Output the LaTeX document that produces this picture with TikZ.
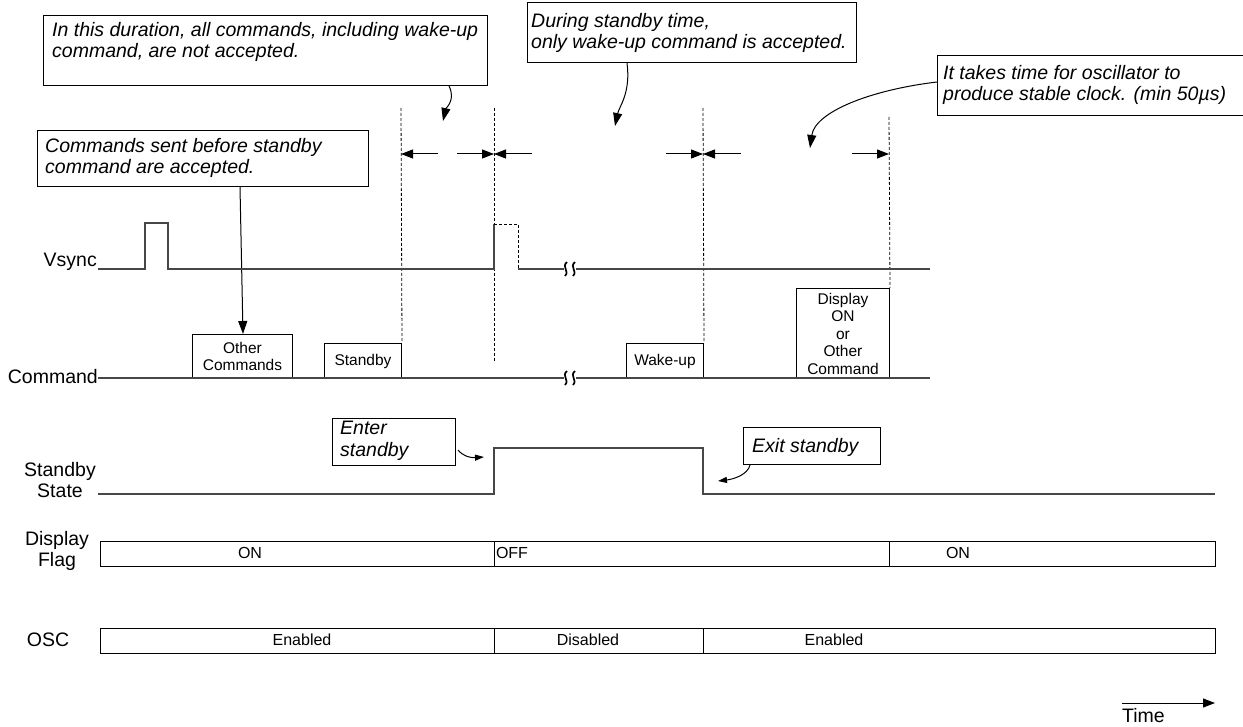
\documentclass[tikz,border=0pt]{standalone}
\usepackage{fontspec}
\setmainfont{Liberation Sans}
\usetikzlibrary{arrows.meta,calc}
\begin{document}
\begin{tikzpicture}[x=1pt,y=-1pt,
  sig/.style={line width=1.3pt, draw=black!72},
  cbox/.style={draw, line width=1pt, inner sep=0pt, anchor=north west},
  ctext/.style={font=\fontsize{19.5}{21.5}\selectfont\itshape, align=left, inner sep=0pt, anchor=north west},
  lbl/.style={font=\fontsize{19.5}{21}\selectfont, align=center, inner sep=0pt},
  cmdbox/.style={draw, line width=1pt, inner sep=0pt, anchor=north west, align=center, font=\fontsize{15.5}{17.5}\selectfont},
  seg/.style={draw, line width=1pt, inner sep=0pt, anchor=north west},
  segtxt/.style={font=\fontsize{16}{18}\selectfont, inner sep=0pt},
  vdash/.style={line width=0.8pt, dash pattern=on 3pt off 2pt},
  carrow/.style={line width=1pt, -{Triangle[length=13pt,width=9pt]}},
  dimarrow/.style={line width=1pt, -{Triangle[length=12pt,width=9pt]}},
  smarrow/.style={line width=1pt, -{Triangle[length=9pt,width=6pt]}},
  brk/.style={line width=1.7pt, draw=black}
]
\useasboundingbox (0,0) rectangle (1243,727);

% ---------- callouts ----------
\node[cbox, minimum width=444pt, minimum height=70pt] (c1) at (43,15) {};
\node[ctext] (c1t) at (52,22) {In this duration, all commands, including wake-up\\command, are not accepted.};

\node[cbox, minimum width=329pt, minimum height=60pt] (c2) at (527,2) {};
\node[ctext] (c2t) at (531,13) {During standby time,\\only wake-up command is accepted.};

\node[cbox, minimum width=306pt, minimum height=60pt] (c3) at (937,55) {};
\node[ctext] (c3t) at (943,65) {It takes time for oscillator to\\produce stable clock. (min 50µs)};

\node[cbox, minimum width=331pt, minimum height=56pt] (c4) at (37,130) {};
\node[ctext] (c4t) at (45,138) {Commands sent before standby\\command are accepted.};

\node[cbox, minimum width=123pt, minimum height=47pt] (en) at (332,418) {};
\node[ctext] (ent) at (340,421) {Enter\\standby};

\node[cbox, minimum width=137pt, minimum height=37pt] (ex) at (743,427) {};
\node[ctext] (ext) at (752,438) {Exit standby};

% ---------- time markers ----------
\coordinate (t1) at (401,108);
\coordinate (t2) at (494,108);
\coordinate (t3) at (703,108);
\coordinate (t4) at (889,117);
\coordinate (d1) at (401,154);
\coordinate (d2) at (494,154);
\coordinate (d3) at (703,154);
\coordinate (d4) at (889,154);

% ---------- command boxes ----------
\node[cmdbox, minimum width=100pt, minimum height=44pt] (oc) at (192,334) {Other\\Commands};
\node[cmdbox, minimum width=77pt, minimum height=35pt] (sb) at (324,343) {Standby};
\node[cmdbox, minimum width=77pt, minimum height=35pt] (wu) at (626,343) {Wake-up};
\node[cmdbox, minimum width=93pt, minimum height=90pt] (dc) at (796,288) {Display\\ON\\or\\Other\\Command};

% dashed vertical lines
\draw[vdash] (t1) -- (sb.north east);
\draw[vdash] (t2) -- ++(0,254);
\draw[vdash] (t3) -- (wu.north east);
\draw[vdash] (t4) -- (dc.north east);

% dimension arrows
\draw[dimarrow] ([xshift=37pt]d1) -- (d1);
\draw[dimarrow] ([xshift=-37pt]d2) -- (d2);
\draw[dimarrow] ([xshift=38pt]d2) -- (d2);
\draw[dimarrow] ([xshift=-37pt]d3) -- (d3);
\draw[dimarrow] ([xshift=38pt]d3) -- (d3);
\draw[dimarrow] ([xshift=-37pt]d4) -- (d4);

% callout arrows
\coordinate (a1) at (443,121);
\coordinate (a2) at (615,126);
\coordinate (a3) at (810,148);
\draw[carrow] ($(c1.south west)+(406,0)$) .. controls ($(c1.south west)+(413,14)$) and ($(c1.south west)+(403,22)$) .. (a1);
\draw[carrow] ($(c2.south west)+(100,0)$) .. controls ($(c2.south west)+(104,30)$) and ($(c2.south west)+(92,44)$) .. (a2);
\draw[carrow] ($(c3.north west)+(0,27)$) .. controls (870,90) and (815,112) .. (a3);
\draw[carrow] ($(c4.south west)+(203,0)$) -- ($(oc.north west)+(51,0)$);
\draw[smarrow] ($(en.north east)+(2,32)$) .. controls ($(en.north east)+(7,38)$) and ($(en.north east)+(14,40)$) .. ($(en.north east)+(28,39)$);
\draw[smarrow] ($(ex.south west)+(7,0)$) .. controls ($(ex.south west)+(5,9)$) and ($(ex.south west)+(-8,14)$) .. ($(ex.south west)+(-25,16)$);

% ---------- signal labels ----------
\node[lbl, anchor=east] (lv) at (97,262) {Vsync};
\node[lbl, anchor=east] (lc) at (98,377) {Command};
\node[lbl] (ls) at (60,480) {Standby\\State};
\node[lbl] (ld) at (57,551) {Display\\Flag};
\node[lbl] (lo) at (48,640) {OSC};

% ---------- waveforms ----------
\draw[sig] (98,269) -- (145,269) -- (145,223) -- (168,223) -- (168,269) -- (494,269) -- (494,224);
\draw[vdash] (494,224) -- (518,224) -- (518,269);
\draw[sig] (518,269) -- (564,269);
\draw[sig] (576,269) -- (930,269);
\draw[sig] (98,378) -- (564,378);
\draw[sig] (576,378) -- (930,378);
\foreach \yy in {269,378}{
  \draw[brk] (567,\yy-7) .. controls (561,\yy-2) and (570,\yy+2) .. (565,\yy+7);
  \draw[brk] (575,\yy-7) .. controls (569,\yy-2) and (578,\yy+2) .. (573,\yy+7);
}
\draw[sig] (98,494) -- (494,494) -- (494,448) -- (703,448) -- (703,494) -- (1215,494);

% ---------- Display Flag ----------
\node[seg, minimum width=394pt, minimum height=25pt] (df1) at (100,541) {};
\node[seg, minimum width=395pt, minimum height=25pt] (df2) at (494,541) {};
\node[seg, minimum width=326pt, minimum height=25pt] (df3) at (889,541) {};
\node[segtxt] at (250,553) {ON};
\node[segtxt] at (512,553) {OFF};
\node[segtxt] at (958,553) {ON};

% ---------- OSC ----------
\node[seg, minimum width=394pt, minimum height=25pt] (os1) at (100,628) {};
\node[seg, minimum width=209pt, minimum height=25pt] (os2) at (494,628) {};
\node[seg, minimum width=512pt, minimum height=25pt] (os3) at (703,628) {};
\node[segtxt] at (302,640) {Enabled};
\node[segtxt] at (588,640) {Disabled};
\node[segtxt] at (834,640) {Enabled};

% ---------- Time ----------
\coordinate (tm) at (1215,703);
\node[font=\fontsize{19.5}{21}\selectfont, inner sep=0pt, anchor=base west] (tl) at (1122,722) {Time};
\draw[dimarrow] (tl.north west |- tm) -- (tm);
\end{tikzpicture}
\end{document}
